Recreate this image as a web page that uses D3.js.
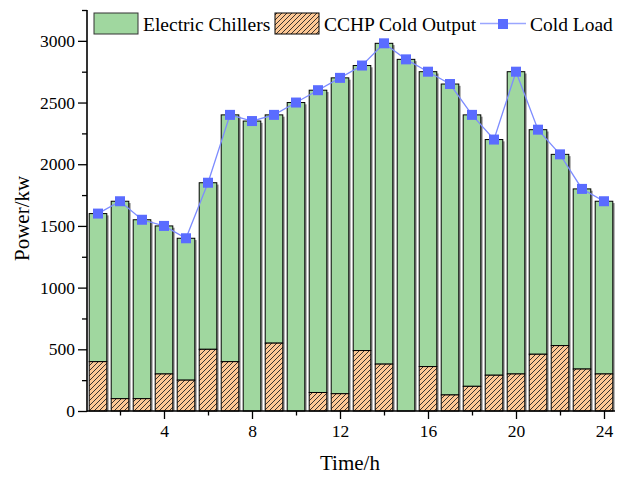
<!DOCTYPE html>
<html>
<head>
<meta charset="utf-8">
<script src="https://cdn.jsdelivr.net/npm/d3@7/dist/d3.min.js"></script>
<style>
  body { margin: 0; background: #fff; }
  svg text { font-family: "Liberation Serif", "Times New Roman", serif; fill: #000; }
</style>
</head>
<body>
<div id="graf"></div>
<script>
// Datos
horas = d3.range(1, 25)
coldLoad = [1600, 1700, 1550, 1500, 1400, 1850, 2400, 2350, 2400, 2500, 2600, 2700,
            2800, 2980, 2850, 2750, 2650, 2400, 2200, 2750, 2280, 2080, 1800, 1700]
cchp     = [400, 100, 100, 300, 250, 500, 400, 0, 550, 0, 150, 140,
            490, 380, 0, 360, 130, 200, 290, 300, 460, 530, 340, 300]
electric = [1200, 1600, 1450, 1200, 1150, 1350, 2000, 2350, 1850, 2500, 2450, 2560,
            2310, 2600, 2850, 2390, 2520, 2200, 1910, 2450, 1820, 1550, 1460, 1400]
yTicks = [0, 500, 1000, 1500, 2000, 2500, 3000]
xTicks = [4, 8, 12, 16, 20, 24]

ancho = 623
alto = 477
margins = { top: 10, left: 87, right: 8, bottom: 66 }

svg = d3.select('#graf').append('svg')
  .attr('width', ancho)
  .attr('height', alto)

defs = svg.append('defs')
pat = defs.append('pattern')
  .attr('id', 'hatch')
  .attr('patternUnits', 'userSpaceOnUse')
  .attr('width', 5)
  .attr('height', 5)
pat.append('rect').attr('width', 5).attr('height', 5).attr('fill', '#fdc895')
pat.append('path')
  .attr('d', 'M-1,6 L6,-1 M-1,1 L1,-1 M4,6 L6,4')
  .attr('stroke', '#222')
  .attr('stroke-width', 0.9)

x = d3.scaleLinear()
  .domain([0.5, 24.5])
  .range([margins.left, ancho - margins.right])

y = d3.scaleLinear()
  .domain([0, 3250])
  .range([alto - margins.bottom, margins.top])

bw = (x(2) - x(1)) * 0.8

datos = horas.map((h, i) => ({ h: h, cchp: cchp[i], elec: electric[i], load: coldLoad[i] }))

// sombras
svg.append('g').selectAll('rect')
  .data(datos)
  .join('rect')
    .attr('x', d => x(d.h) - bw / 2 + 1.8)
    .attr('y', d => y(d.cchp + d.elec) + 1.8)
    .attr('width', bw)
    .attr('height', d => y(0) - y(d.cchp + d.elec) - 1.8)
    .attr('fill', '#8a8a8a')

// Electric chillers (arriba)
svg.append('g').selectAll('rect')
  .data(datos)
  .join('rect')
    .attr('x', d => x(d.h) - bw / 2)
    .attr('y', d => y(d.cchp + d.elec))
    .attr('width', bw)
    .attr('height', d => y(d.cchp) - y(d.cchp + d.elec))
    .attr('fill', '#a0d79f')
    .attr('stroke', '#000')
    .attr('stroke-width', 1)

// CCHP (abajo)
svg.append('g').selectAll('rect')
  .data(datos.filter(d => d.cchp > 0))
  .join('rect')
    .attr('x', d => x(d.h) - bw / 2)
    .attr('y', d => y(d.cchp))
    .attr('width', bw)
    .attr('height', d => y(0) - y(d.cchp))
    .attr('fill', 'url(#hatch)')
    .attr('stroke', '#000')
    .attr('stroke-width', 1)

// Cold load
linea = d3.line().x(d => x(d.h)).y(d => y(d.load))
svg.append('path')
  .datum(datos)
  .attr('d', linea)
  .attr('fill', 'none')
  .attr('stroke', '#7d8cff')
  .attr('stroke-width', 1.3)

svg.append('g').selectAll('rect')
  .data(datos)
  .join('rect')
    .attr('x', d => x(d.h) - 5)
    .attr('y', d => y(d.load) - 5)
    .attr('width', 10)
    .attr('height', 10)
    .attr('fill', '#5a6cff')

// Ejes
yAxis = d3.axisLeft(y)
  .tickValues(d3.range(0, 3251, 250))
  .tickSize(0)
  .tickFormat(d => yTicks.includes(d) ? d : '')
yG = svg.append('g')
  .attr('transform', `translate(${margins.left}, 0)`)
  .call(yAxis)
  .attr('font-family', null)
  .attr('font-size', null)
yG.select('.domain').remove()
yG.selectAll('.tick line')
  .attr('x2', d => yTicks.includes(d) ? -9 : -5)
  .attr('stroke-width', 1.3)
yG.selectAll('.tick text')
  .attr('x', -12)
  .style('font-size', '17.5px')

xAxis = d3.axisBottom(x)
  .tickValues(d3.range(2, 25, 2))
  .tickSize(0)
  .tickFormat(d => xTicks.includes(d) ? d : '')
xG = svg.append('g')
  .attr('transform', `translate(0, ${y(0)})`)
  .call(xAxis)
  .attr('font-family', null)
  .attr('font-size', null)
xG.select('.domain').remove()
xG.selectAll('.tick line')
  .attr('y2', d => xTicks.includes(d) ? 8 : 4.5)
  .attr('stroke-width', 1.3)
xG.selectAll('.tick text')
  .attr('y', 14)
  .style('font-size', '17.5px')

svg.append('line')
  .attr('x1', margins.left).attr('x2', margins.left)
  .attr('y1', margins.top).attr('y2', y(0) + 0.7)
  .attr('stroke', '#000').attr('stroke-width', 1.6)
svg.append('line')
  .attr('x1', margins.left).attr('x2', ancho - margins.right)
  .attr('y1', y(0)).attr('y2', y(0))
  .attr('stroke', '#000').attr('stroke-width', 1.6)

// Títulos
svg.append('text')
  .attr('x', 350).attr('y', 470)
  .attr('text-anchor', 'middle')
  .style('font-size', '21px')
  .text('Time/h')
svg.append('text')
  .attr('transform', 'translate(29, 261) rotate(-90)')
  .attr('text-anchor', 'start')
  .style('font-size', '21px')
  .text('Power/kw')

// Leyenda
leg = svg.append('g')
leg.append('rect').attr('x', 94).attr('y', 13).attr('width', 44).attr('height', 21)
  .attr('fill', '#a0d79f').attr('stroke', '#333').attr('stroke-width', 1)
leg.append('text').attr('x', 143).attr('y', 31).style('font-size', '19.5px').text('Electric Chillers')
leg.append('rect').attr('x', 275).attr('y', 13).attr('width', 44).attr('height', 21)
  .attr('fill', 'url(#hatch)').attr('stroke', '#000').attr('stroke-width', 1)
leg.append('text').attr('x', 324).attr('y', 31).style('font-size', '19.5px').text('CCHP Cold Output')
leg.append('line').attr('x1', 480).attr('x2', 526).attr('y1', 23.5).attr('y2', 23.5)
  .attr('stroke', '#9aa6ff').attr('stroke-width', 1.3)
leg.append('rect').attr('x', 498).attr('y', 19).attr('width', 10).attr('height', 10)
  .attr('fill', '#5a6cff')
leg.append('text').attr('x', 530).attr('y', 31).style('font-size', '19.5px').text('Cold Load')
</script>
</body>
</html>
